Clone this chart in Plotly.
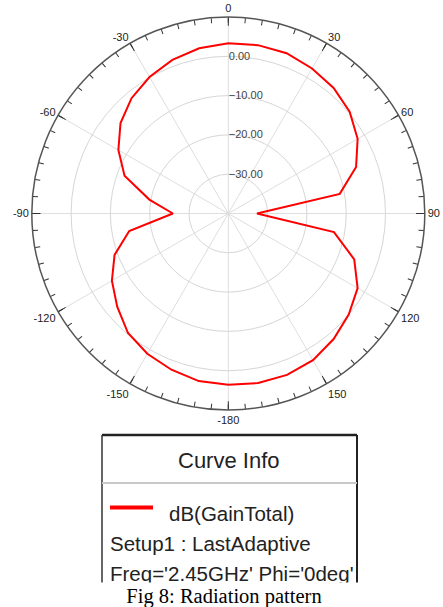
import plotly.graph_objects as go

# radiation pattern, dB(GainTotal) vs theta (deg)
theta = [-180, -170, -160, -150, -140, -130, -120, -110, -100, -90,
         -80, -70, -60, -50, -40, -30, -20, -10, 0,
         10, 20, 30, 40, 50, 60, 70, 80, 90,
         100, 110, 120, 130, 140, 150, 160, 170, 180]
gain_db = [3.6, 3.3, 2.3, 1.2, -0.3, -3.1, -5.8, -9.2, -14.4, -25.9,
           -19.6, -11.9, -7.7, -4.2, -1.7, 0.1, 1.6, 2.7, 3.3,
           3.5, 3.4, 2.6, 1.7, 0.3, -2.0, -5.4, -11.2, -32.7,
           -12.7, -5.9, -2.0, 0.0, 1.7, 3.1, 3.7, 3.8, 3.6]

angle_ticks = [0, 30, 60, 90, 120, 150, 180, 210, 240, 270, 300, 330]
angle_labels = ["0", "30", "60", "90", "120", "150", "-180", "-150", "-120", "-90", "-60", "-30"]
radial_ticks = [-30, -20, -10, 0]

curve_name = "dB(GainTotal)"
setup_text = "Setup1 : LastAdaptive"
freq_text = "Freq='2.45GHz' Phi='0deg'"
caption = "Fig 8: Radiation pattern"

W, H = 443, 607


# pixel (from top-left) -> paper coords
def px(x):
    return x / W


def py(y):
    return (H - y) / H


fig = go.Figure()
fig.add_trace(go.Scatterpolar(r=gain_db, theta=theta, mode="lines",
                              line=dict(color="#ff0000", width=2),
                              name=curve_name, subplot="polar"))
# same curve on the overlay subplot (invisible), only so the 5 deg ticks get drawn
fig.add_trace(go.Scatterpolar(r=gain_db, theta=theta, mode="lines", opacity=0,
                              hoverinfo="skip", subplot="polar2"))

cx, cy, rad = 228.3, 213.5, 196.5
dom = dict(x=[px(cx - rad), px(cx + rad)], y=[py(cy + rad), py(cy - rad)])

fig.update_layout(
    width=W, height=H,
    margin=dict(l=0, r=0, t=0, b=0),
    paper_bgcolor="white",
    showlegend=False,
    polar=dict(
        domain=dom,
        bgcolor="white",
        radialaxis=dict(range=[-40, 10], tickvals=radial_ticks, tickformat=".2f",
                        showline=False, ticks="", angle=90, tickangle=90,
                        gridcolor="#d6d6d6", gridwidth=1.3,
                        tickfont=dict(family="Liberation Sans, Arial", size=11, color="#444")),
        angularaxis=dict(rotation=90, direction="clockwise",
                         tickmode="array", tickvals=angle_ticks, ticktext=angle_labels,
                         ticks="inside", ticklen=8, tickwidth=1.2, tickcolor="#333",
                         showline=True, linecolor="#555", linewidth=1.5,
                         gridcolor="#dedede", gridwidth=1,
                         tickfont=dict(family="Liberation Sans, Arial", size=11, color="#222")),
    ),
    polar2=dict(
        domain=dom,
        bgcolor="rgba(0,0,0,0)",
        radialaxis=dict(range=[-40, 10], visible=False),
        angularaxis=dict(rotation=90, direction="clockwise",
                         tickmode="linear", tick0=0, dtick=5,
                         ticks="inside", ticklen=5, tickwidth=1, tickcolor="#333",
                         showticklabels=False, showgrid=False, showline=False),
    ),
)

# "Curve Info" box
bl, br, bt, bs, bb = 102, 357, 435, 483, 600
box = [
    dict(x0=bl, x1=br, y0=bt, y1=bt, color="#222", width=2.5),
    dict(x0=bl, x1=bl, y0=bt, y1=bb, color="#333", width=1.5),
    dict(x0=br, x1=br, y0=bt, y1=bb, color="#222", width=2),
    dict(x0=bl, x1=br, y0=bs, y1=bs, color="#c8c8c8", width=2),
    dict(x0=110, x1=153, y0=507.5, y1=507.5, color="#ff0000", width=4),
]
for s in box:
    fig.add_shape(type="line", xref="paper", yref="paper",
                  x0=px(s["x0"]), x1=px(s["x1"]), y0=py(s["y0"]), y1=py(s["y1"]),
                  line=dict(color=s["color"], width=s["width"]))

sans = "Liberation Sans, Arial, sans-serif"
texts = [
    (229, 460, "center", "Curve Info", 22),
    (167, 513, "left", curve_name, 20.5),
    (108, 543, "left", setup_text, 20.5),
    (108, 573, "left", freq_text, 20.5),
]
for x, y, anchor, txt, size in texts:
    fig.add_annotation(x=px(x), y=py(y), xref="paper", yref="paper", text=txt,
                       showarrow=False, xanchor=anchor, yanchor="middle",
                       font=dict(family=sans, size=size, color="#222"))

# caption with white background, it also cuts off the bottom of the box
fig.add_annotation(x=px(224), y=py(582), xref="paper", yref="paper", text=caption,
                   showarrow=False, xanchor="center", yanchor="top",
                   width=420, height=26, bgcolor="white", borderpad=0,
                   font=dict(family="Liberation Serif, Times New Roman, serif", size=20.5, color="black"))

# no page margin, so the figure fills the window
fig.write_html("out.html", config={"displayModeBar": False},
               post_script="document.body.style.margin = '0';")
